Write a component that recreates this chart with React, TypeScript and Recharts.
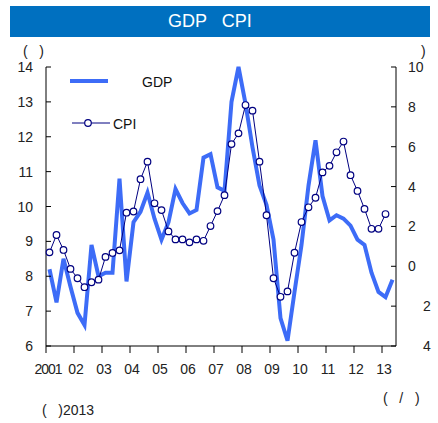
import React from "react";
import { LineChart, Line, XAxis, YAxis } from "recharts";

// quarterly, 2001Q1 .. 2013Q2
const years = [2001, 2002, 2003, 2004, 2005, 2006, 2007, 2008, 2009, 2010, 2011, 2012, 2013];
const yearLabels = ["2001", "02", "03", "04", "05", "06", "07", "08", "09", "10", "11", "12", "13"];
const quarterNames = ["Q1", "Q2", "Q3", "Q4"];
const quarters = years.flatMap((y) => quarterNames.map((q) => `${y}${q}`)).slice(0, 50);

// real GDP growth, % y/y (left axis)
const gdp = [
  8.2, 7.25, 8.5, 7.7, 6.95, 6.6, 8.9, 8.0, 8.1, 8.1,
  10.8, 7.85, 9.55, 9.85, 10.4, 9.65, 9.05, 9.55, 10.5, 10.1,
  9.8, 9.9, 11.4, 11.5, 10.55, 10.45, 13.0, 14.0, 12.95, 11.7,
  10.6, 10.05, 9.05, 6.8, 6.15, 7.55, 8.9, 10.6, 11.9, 10.3,
  9.6, 9.75, 9.65, 9.45, 9.05, 8.9, 8.1, 7.55, 7.4, 7.9,
];

// CPI, % y/y (right axis)
const cpi = [
  0.7, 1.57, 0.82, -0.13, -0.6, -1.05, -0.8, -0.67, 0.47, 0.67,
  0.8, 2.69, 2.75, 4.37, 5.25, 3.16, 2.82, 1.75, 1.35, 1.35,
  1.2, 1.35, 1.28, 2.02, 2.77, 3.57, 6.13, 6.67, 8.09, 7.81,
  5.25, 2.56, -0.6, -1.53, -1.26, 0.68, 2.22, 2.96, 3.44, 4.71,
  5.04, 5.72, 6.26, 4.57, 3.78, 2.88, 1.88, 1.88, 2.62,
];

const leftTicks = [6, 7, 8, 9, 10, 11, 12, 13, 14];
const rightTicks = [-4, -2, 0, 2, 4, 6, 8, 10];

const data = quarters.map((q, i) => ({
  q,
  gdp: gdp[i],
  cpi: i < cpi.length ? cpi[i] : null,
}));

const GDP_COLOR = "#3d6cf7";
const CPI_COLOR = "#000080";
const FONT = "'Liberation Sans', Arial, sans-serif";
const SP = "\u00a0\u00a0\u00a0";

const LeftTick = (props: any) => {
  const { x, y, payload } = props;
  return (
    <g>
      <line x1={x} x2={x + 5} y1={y} y2={y} stroke="#000" />
      <text x={x - 13} y={y} dy={5} textAnchor="end" fontSize={14} fill="#222" fontFamily={FONT}>
        {payload.value}
      </text>
    </g>
  );
};

const RightTick = (props: any) => {
  const { x, y, payload } = props;
  const v = payload.value as number;
  // negative labels are drawn without the sign, pushed right
  return (
    <g>
      <line x1={x - 5} x2={x} y1={y} y2={y} stroke="#000" />
      <text x={v < 0 ? x + 27 : x + 12} y={y} dy={5} textAnchor="start" fontSize={14} fill="#222" fontFamily={FONT}>
        {Math.abs(v)}
      </text>
    </g>
  );
};

const BottomTick = (props: any) => {
  const { x, y, payload } = props;
  const half = payload.offset || 3.5;
  const year = parseInt(String(payload.value).slice(0, 4), 10);
  const label = yearLabels[years.indexOf(year)];
  return (
    <g>
      <line x1={x - half} x2={x - half} y1={y} y2={y + 7} stroke="#000" />
      <text x={x - 1.5} y={y + 28} textAnchor="middle" fontSize={14} fill="#222" fontFamily={FONT} letterSpacing={year === 2001 ? -1 : 0}>
        {label}
      </text>
    </g>
  );
};

export default function App() {
  return (
    <div style={{ position: "absolute", left: 0, top: 0, width: 438, height: 423, background: "#fff", fontFamily: FONT }}>
      <div
        style={{
          position: "absolute", left: 10, top: 6, width: 420, height: 31,
          background: "#0070c0", color: "#fff", fontSize: 18,
        }}
      >
        <span style={{ position: "absolute", left: 158, top: 5, whiteSpace: "pre" }}>{"GDP   CPI"}</span>
      </div>

      <LineChart
        width={438}
        height={423}
        data={data}
        margin={{ top: 67, right: 0, bottom: 47, left: 6 }}
      >
        <XAxis
          dataKey="q"
          scale="band"
          interval={3}
          height={30}
          axisLine={{ stroke: "#000" }}
          tickLine={false}
          tickSize={0}
          tickMargin={0}
          tick={<BottomTick />}
        />
        <YAxis
          yAxisId="left"
          orientation="left"
          width={40}
          domain={[6, 14]}
          ticks={leftTicks}
          axisLine={{ stroke: "#000" }}
          tickLine={false}
          tickSize={0}
          tickMargin={0}
          tick={<LeftTick />}
        />
        <YAxis
          yAxisId="right"
          orientation="right"
          width={42}
          domain={[-4, 10]}
          ticks={rightTicks}
          axisLine={{ stroke: "#000" }}
          tickLine={false}
          tickSize={0}
          tickMargin={0}
          tick={<RightTick />}
        />
        <Line
          yAxisId="left"
          type="linear"
          dataKey="gdp"
          stroke={GDP_COLOR}
          strokeWidth={4}
          dot={false}
          activeDot={false}
          isAnimationActive={false}
        />
        <Line
          yAxisId="right"
          type="linear"
          dataKey="cpi"
          stroke={CPI_COLOR}
          strokeWidth={1}
          dot={{ r: 3.3, fill: "#fff", stroke: CPI_COLOR, strokeWidth: 1.2 }}
          activeDot={false}
          connectNulls={false}
          isAnimationActive={false}
        />
      </LineChart>

      <svg
        width={438}
        height={423}
        style={{ position: "absolute", left: 0, top: 0, pointerEvents: "none" }}
        fontFamily={FONT}
      >
        <text x={23} y={56} fontSize={14} fill="#222">{`(${SP})`}</text>
        <text x={421} y={56} fontSize={14} fill="#222">)</text>

        <line x1={70} x2={108} y1={81} y2={81} stroke={GDP_COLOR} strokeWidth={4} />
        <text x={142} y={87} fontSize={14} fill="#111">GDP</text>
        <line x1={72} x2={110} y1={123} y2={123} stroke={CPI_COLOR} strokeWidth={1} />
        <circle cx={88} cy={123} r={3.3} fill="#fff" stroke={CPI_COLOR} strokeWidth={1.2} />
        <text x={113} y={129} fontSize={14} fill="#111">CPI</text>

        <text x={383} y={403} fontSize={14} fill="#222">{`(${SP}/${SP})`}</text>
        <text x={42} y={415} fontSize={14} fill="#222">{`(${SP})2013`}</text>
      </svg>
    </div>
  );
}
